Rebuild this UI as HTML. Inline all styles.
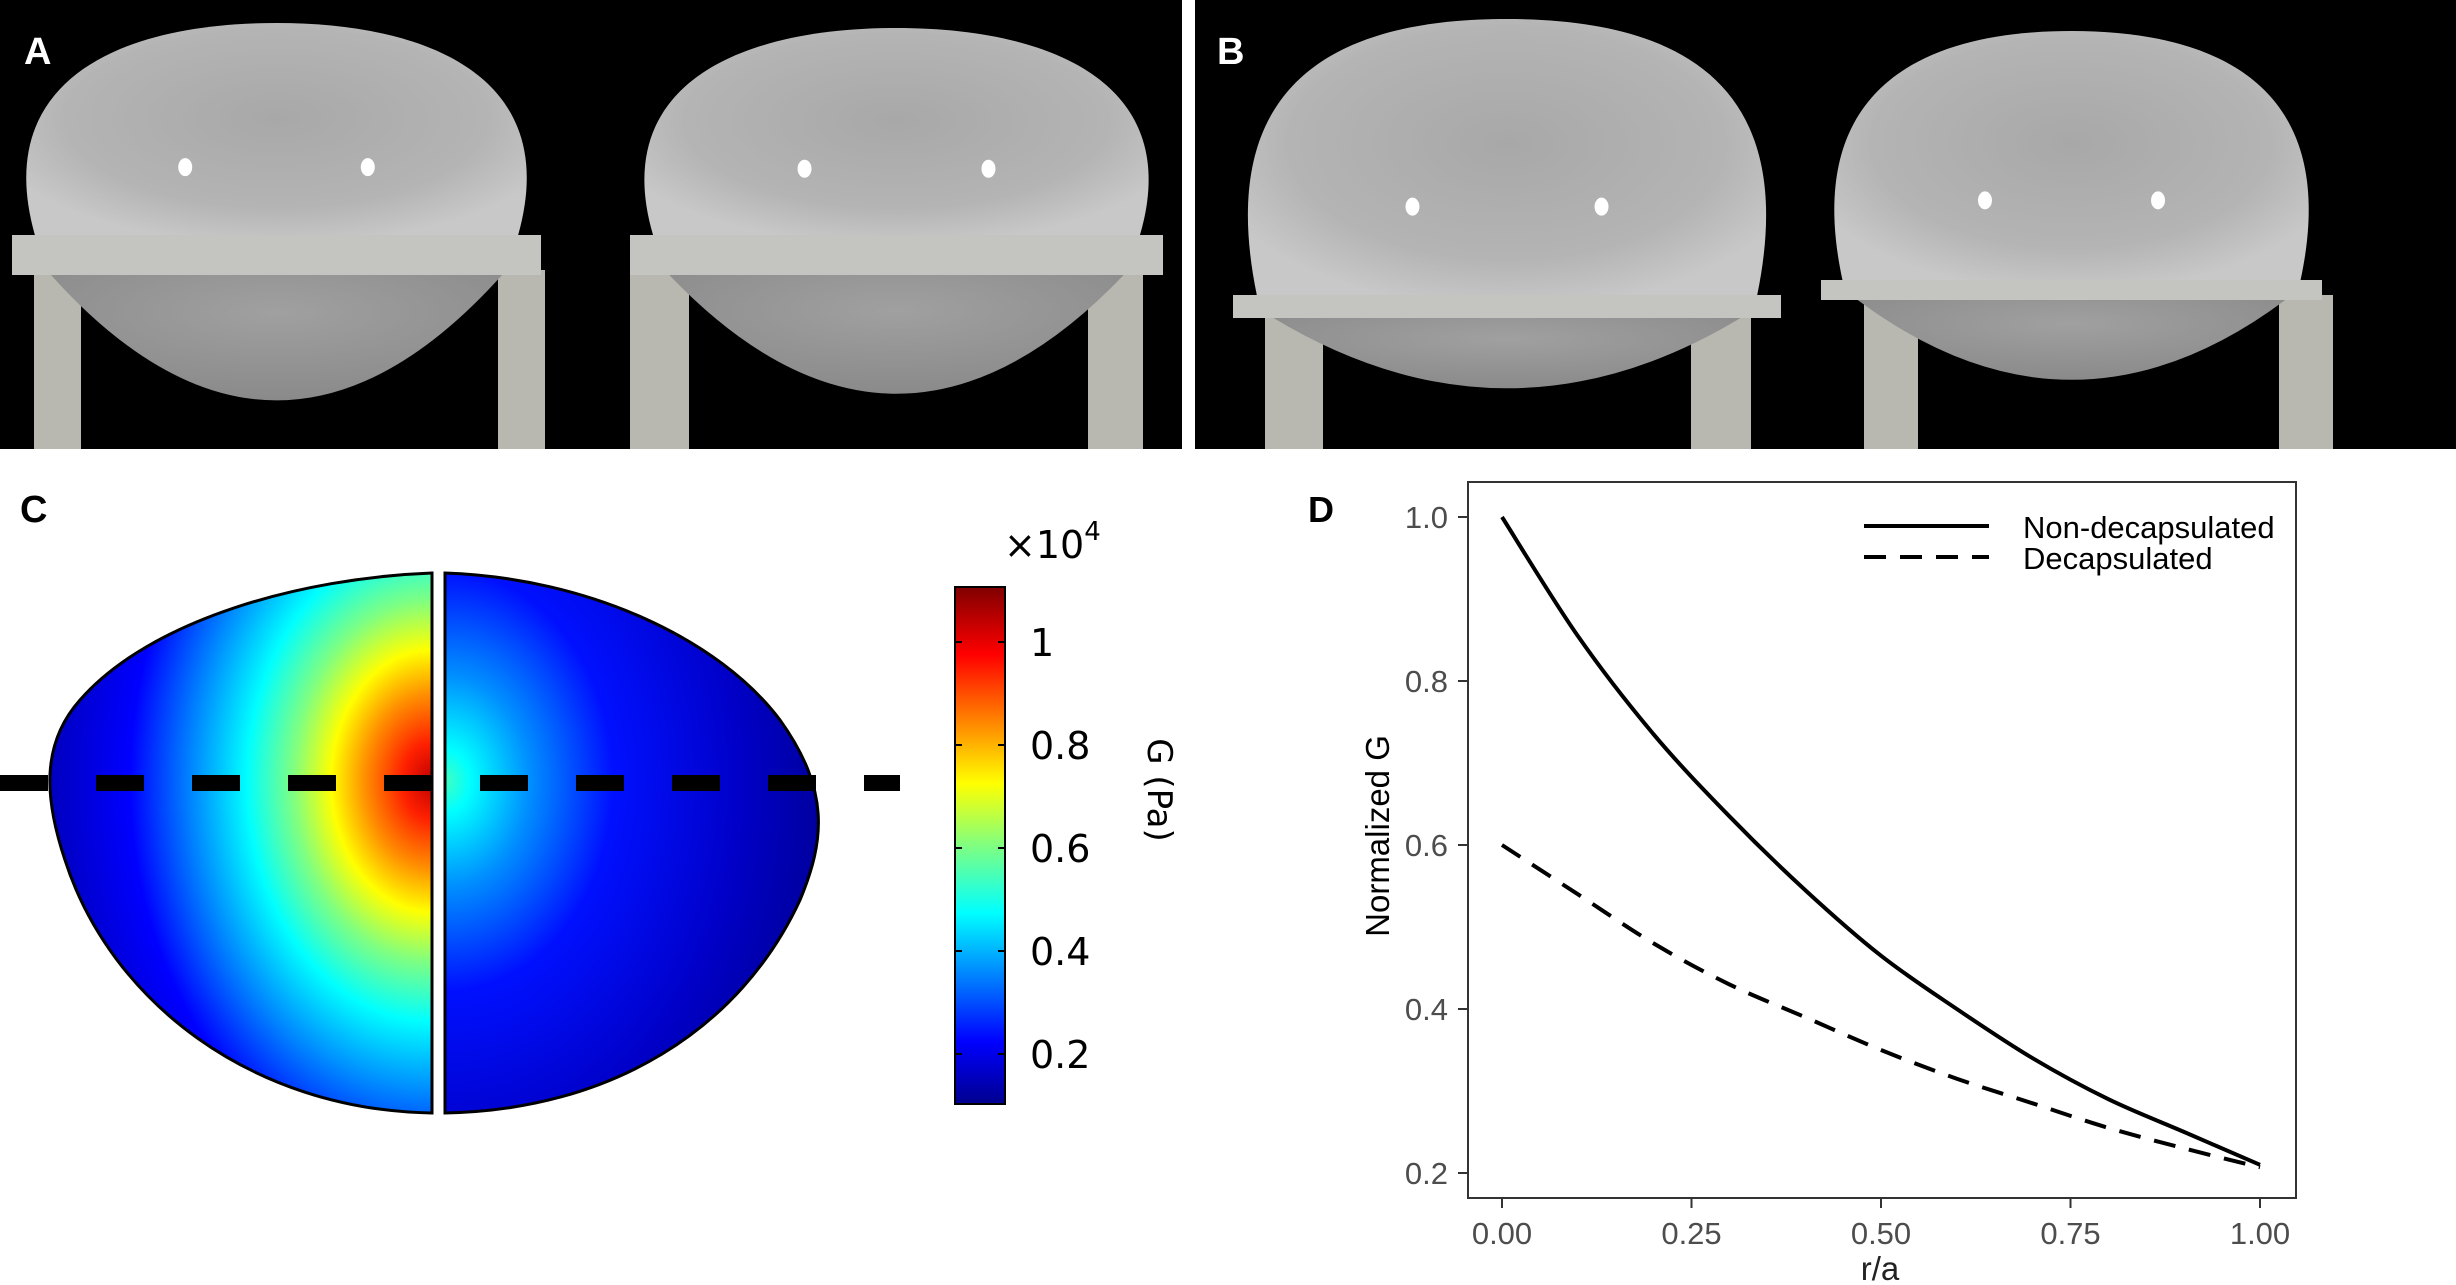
<!DOCTYPE html>
<html><head><meta charset="utf-8"><style>
html,body{margin:0;padding:0;background:#fff;}
svg{display:block;font-family:"Liberation Sans",sans-serif;}
</style></head><body>
<svg id="fig" width="2456" height="1285" viewBox="0 0 2456 1285" xmlns="http://www.w3.org/2000/svg">
<defs>
<radialGradient id="domeG" cx="0.5" cy="0.45" r="0.6">
<stop offset="0" stop-color="#a8a8a8"/><stop offset="0.7" stop-color="#b4b4b4"/><stop offset="1" stop-color="#c8c8c8"/>
</radialGradient>
<radialGradient id="lowG" cx="0.5" cy="0.3" r="0.7">
<stop offset="0" stop-color="#a0a0a0"/><stop offset="1" stop-color="#8a8a8a"/>
</radialGradient>
<radialGradient id="heatL" gradientUnits="userSpaceOnUse" cx="432" cy="781" r="420" gradientTransform="translate(432 781) scale(1 1.3) translate(-432 -781)">
<stop offset="0" stop-color="#c00000"/>
<stop offset="0.07" stop-color="#ff2000"/>
<stop offset="0.16" stop-color="#ff9000"/>
<stop offset="0.24" stop-color="#ffff00"/>
<stop offset="0.33" stop-color="#80ff80"/>
<stop offset="0.44" stop-color="#00ffff"/>
<stop offset="0.58" stop-color="#0080ff"/>
<stop offset="0.72" stop-color="#0000ff"/>
<stop offset="1" stop-color="#0000a0"/>
</radialGradient>
<radialGradient id="heatR" gradientUnits="userSpaceOnUse" cx="445" cy="781" r="420" gradientTransform="translate(445 781) scale(1 1.25) translate(-445 -781)">
<stop offset="0" stop-color="#40ffc0"/>
<stop offset="0.06" stop-color="#00ffff"/>
<stop offset="0.2" stop-color="#0090ff"/>
<stop offset="0.4" stop-color="#0010ff"/>
<stop offset="0.7" stop-color="#0000c8"/>
<stop offset="1" stop-color="#00008a"/>
</radialGradient>
<linearGradient id="jet" x1="0" y1="1" x2="0" y2="0">
<stop offset="0" stop-color="#00008f"/>
<stop offset="0.12" stop-color="#0000ff"/>
<stop offset="0.37" stop-color="#00ffff"/>
<stop offset="0.5" stop-color="#80ff80"/>
<stop offset="0.62" stop-color="#ffff00"/>
<stop offset="0.87" stop-color="#ff0000"/>
<stop offset="1" stop-color="#800000"/>
</linearGradient>
</defs>

<rect x="0" y="0" width="1182" height="449" fill="#000"/>
<rect x="1195" y="0" width="1261" height="449" fill="#000"/>
<g id="lenses"></g>
<text x="24" y="64" font-size="38" font-weight="bold" fill="#fff">A</text>
<text x="1217" y="64" font-size="38" font-weight="bold" fill="#fff">B</text>

<text x="20" y="522" font-size="38" font-weight="bold" fill="#000">C</text>
<path d="M432,573 C300,578 150,620 80,700 C40,745 45,800 65,860 C110,1000 250,1110 432,1113 Z" fill="url(#heatL)" stroke="#000" stroke-width="3"/>
<path d="M445,573 C590,578 720,640 780,720 C830,790 825,840 800,900 C740,1030 610,1110 445,1113 Z" fill="url(#heatR)" stroke="#000" stroke-width="3"/>
<line x1="0" y1="783" x2="900" y2="783" stroke="#000" stroke-width="16" stroke-dasharray="48,48"/>
<rect x="955" y="587" width="50" height="517" fill="url(#jet)" stroke="#000" stroke-width="2"/>
<g id="cbticks" font-size="38" fill="#000" font-family="'DejaVu Sans',sans-serif"></g>
<text x="1004" y="558" font-size="38" font-family="'DejaVu Sans',sans-serif">×10<tspan font-size="26" dy="-18">4</tspan></text>
<text transform="translate(1148,790) rotate(90)" text-anchor="middle" font-size="34" font-family="'DejaVu Sans',sans-serif">G (Pa)</text>

<text x="1308" y="522" font-size="36" font-weight="bold" fill="#000">D</text>
<rect x="1468" y="482" width="828" height="716" fill="#fff" stroke="#333" stroke-width="2"/>
<g id="axes"></g>
<g id="series"></g>
<line x1="1864" y1="526" x2="1989" y2="526" stroke="#000" stroke-width="4"/>
<line x1="1864" y1="557" x2="1989" y2="557" stroke="#000" stroke-width="4" stroke-dasharray="22,14"/>
<text x="2023" y="538" font-size="31">Non-decapsulated</text>
<text x="2023" y="569" font-size="31">Decapsulated</text>
<text transform="translate(1389,836) rotate(-90)" text-anchor="middle" font-size="33">Normalized G</text>
<text x="1880" y="1280" text-anchor="middle" font-size="33" fill="#222">r/a</text>
</svg>
<script>
const xTicks = [0, 0.25, 0.5, 0.75, 1.0];
const xTickLabels = ["0.00", "0.25", "0.50", "0.75", "1.00"];
const yTicks = [0.2, 0.4, 0.6, 0.8, 1.0];
const yTickLabels = ["0.2", "0.4", "0.6", "0.8", "1.0"];
const rVals = [0, 0.1, 0.2, 0.3, 0.4, 0.5, 0.6, 0.7, 0.8, 0.9, 1.0];
const nonDecap = [1.0, 0.855, 0.735, 0.635, 0.545, 0.465, 0.4, 0.34, 0.29, 0.25, 0.21];
const decap = [0.6, 0.54, 0.48, 0.43, 0.39, 0.35, 0.315, 0.285, 0.255, 0.23, 0.207];
const cbTicks = [0.2, 0.4, 0.6, 0.8, 1.0];
const cbTickLabels = ["0.2", "0.4", "0.6", "0.8", "1"];

const NS = "http://www.w3.org/2000/svg";
function X(v){ return 1502 + (v - 0) / 1 * (2260 - 1502); }
function Y(v){ return 1173 - (v - 0.2) / 0.8 * (1173 - 517); }
function CB(v){ return 1054 - (v - 0.2) / 0.8 * (1054 - 642); }
function mk(tag, attrs, parent){
  const e = document.createElementNS(NS, tag);
  for (const k in attrs) e.setAttribute(k, attrs[k]);
  parent.appendChild(e);
  return e;
}
const axes = document.getElementById('axes');
xTicks.forEach((t, i) => {
  const l = mk('line', {x1: X(t), x2: X(t), y1: 1198, y2: 1208, stroke: '#333', 'stroke-width': 2}, axes);
  
  
  const tx = mk('text', {x: X(t), y: 1244, 'text-anchor': 'middle', 'font-size': 31, fill: '#4d4d4d'}, axes);
  tx.textContent = xTickLabels[i];
  
  
});
yTicks.forEach((t, i) => {
  const l = mk('line', {x1: 1458, x2: 1468, y1: Y(t), y2: Y(t), stroke: '#333', 'stroke-width': 2}, axes);
  
  
  const tx = mk('text', {x: 1448, y: Y(t) + 11, 'text-anchor': 'end', 'font-size': 31, fill: '#4d4d4d'}, axes);
  tx.textContent = yTickLabels[i];
  
  
});
function pathOf(vals){
  const p = rVals.map((r, i) => [X(r), Y(vals[i])]);
  let d = 'M' + p[0][0] + ',' + p[0][1];
  for (let i = 0; i < p.length - 1; i++) {
    const p0 = p[Math.max(0, i - 1)], p1 = p[i], p2 = p[i + 1], p3 = p[Math.min(p.length - 1, i + 2)];
    const c1 = [p1[0] + (p2[0] - p0[0]) / 6, p1[1] + (p2[1] - p0[1]) / 6];
    const c2 = [p2[0] - (p3[0] - p1[0]) / 6, p2[1] - (p3[1] - p1[1]) / 6];
    d += ' C' + c1 + ' ' + c2 + ' ' + p2;
  }
  return d;
}
const ser = document.getElementById('series');
const s1 = mk('path', {d: pathOf(nonDecap), fill: 'none', stroke: '#000', 'stroke-width': 4}, ser);


const s2 = mk('path', {d: pathOf(decap), fill: 'none', stroke: '#000', 'stroke-width': 4, 'stroke-dasharray': '22,14'}, ser);



const cb = document.getElementById('cbticks');
cbTicks.forEach((t, i) => {
  const a = mk('line', {x1: 955, x2: 962, y1: CB(t), y2: CB(t), stroke: '#000', 'stroke-width': 2}, cb);
  
  
  const b = mk('line', {x1: 998, x2: 1005, y1: CB(t), y2: CB(t), stroke: '#000', 'stroke-width': 2}, cb);
  
  
  const tx = mk('text', {x: 1030, y: CB(t) + 14}, cb);
  tx.textContent = cbTickLabels[i];
  
  
});

const lenses = [
  {x0: 8, x1: 545, top: 23, rim: 235, rimB: 275, bot: 407, legs: [[34, 81], [498, 545]], name: 'lens-a-left'},
  {x0: 626, x1: 1167, top: 28, rim: 235, rimB: 275, bot: 400, legs: [[630, 689], [1088, 1143]], name: 'lens-a-right'},
  {x0: 1229, x1: 1785, top: 19, rim: 295, rimB: 318, bot: 392, legs: [[1265, 1323], [1691, 1751]], name: 'lens-b-left'},
  {x0: 1817, x1: 2326, top: 31, rim: 280, rimB: 300, bot: 384, legs: [[1864, 1918], [2279, 2333]], name: 'lens-b-right'}
];
const lg = document.getElementById('lenses');
lenses.forEach(L => {
  const g = mk('g', {}, lg);
  
  
  L.legs.forEach(l => {
    mk('rect', {x: l[0], y: L.rimB - 5, width: l[1] - l[0], height: 449 - L.rimB + 5, fill: '#b8b8b0'}, g);
  });
  const cx = (L.x0 + L.x1) / 2, w = L.x1 - L.x0;
  mk('path', {d: `M${L.x0 + w*0.08},${L.rimB} Q${cx},${L.bot + (L.bot - L.rimB)*0.9} ${L.x1 - w*0.08},${L.rimB} Z`, fill: 'url(#lowG)'}, g);
  mk('path', {d: `M${L.x0 + w*0.05},${L.rim} C${L.x0 - w*0.03},${L.top + 60} ${L.x0 + w*0.2},${L.top} ${cx},${L.top} C${L.x1 - w*0.2},${L.top} ${L.x1 + w*0.03},${L.top + 60} ${L.x1 - w*0.05},${L.rim} Z`, fill: 'url(#domeG)'}, g);
  mk('rect', {x: L.x0 + 4, y: L.rim, width: w - 8, height: L.rimB - L.rim, fill: '#c4c4c0'}, g);
  mk('ellipse', {cx: cx - w*0.17, cy: L.top + (L.rim - L.top)*0.68, rx: 7, ry: 9, fill: '#fff'}, g);
  mk('ellipse', {cx: cx + w*0.17, cy: L.top + (L.rim - L.top)*0.68, rx: 7, ry: 9, fill: '#fff'}, g);
});
</script>
</body></html>
